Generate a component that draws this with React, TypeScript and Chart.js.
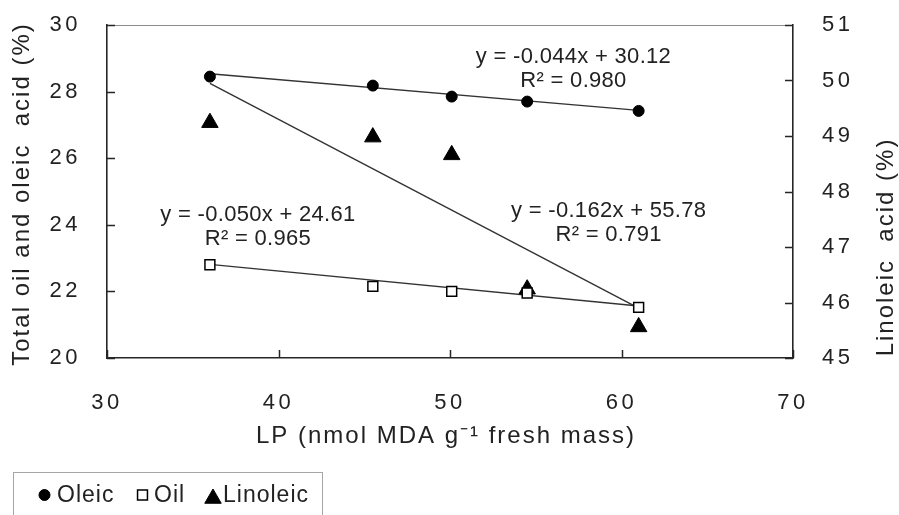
import React, { useEffect, useRef } from 'react';
import { Chart, registerables } from 'chart.js';
import { drawPoint } from 'chart.js/helpers';

Chart.register(...registerables);

// ---- data ----
const lpValues = [36.0, 45.5, 50.1, 54.5, 61.0];
const oleicValues = [28.45, 28.18, 27.85, 27.7, 27.42];
const oilValues = [22.8, 22.15, 22.0, 21.95, 21.52];
const linoleicValues = [49.24, 48.98, 48.66, 46.24, 45.56];

const seriesNames = ['Oleic', 'Oil', 'Linoleic'];
const fitSlopes = [-0.044, -0.05, -0.162];
const fitIntercepts = [30.12, 24.61, 55.78];
const fitR2 = ['0.980', '0.965', '0.791'];
const fitRange = [36, 61];

// equation label anchors (x in LP units, y in left-axis units)
const eqAnchorX = [57.2, 38.8, 59.25];
const eqAnchorY = [29.03, 24.3, 24.42];

const xTickValues = [30, 40, 50, 60, 70];
const leftTickValues = [20, 22, 24, 26, 28, 30];
const rightTickValues = [45, 46, 47, 48, 49, 50, 51];

const xTitle = 'LP (nmol MDA g\u207B\u00B9 fresh mass)';
const leftTitle = 'Total oil and oleic  acid (%)';
const rightTitle = 'Linoleic  acid (%)';

// ---- style ----
const FONT = "'Liberation Sans', Arial, sans-serif";
const TEXT = '#222222';
const AXIS = '#262626';
const LINE = '#333333';
const TICK_SPACING = 3.5;

function setSpacing(ctx: any, px: number) {
  try {
    ctx.letterSpacing = px + 'px';
  } catch (e) {}
}

const markerStyles = [
  { pointStyle: 'circle', radius: 5.5, bg: '#000000', border: '#000000', bw: 1 },
  { pointStyle: 'rect', radius: 7, bg: '#ffffff', border: '#000000', bw: 1.5 },
  { pointStyle: 'triangle', radius: 9.5, bg: '#000000', border: '#000000', bw: 1 },
];

const customPlugin = {
  id: 'customDecor',
  beforeUpdate(chart: any) {
    setSpacing(chart.ctx, TICK_SPACING);
  },
  beforeDraw(chart: any) {
    setSpacing(chart.ctx, TICK_SPACING);
  },
  afterDraw(chart: any) {
    const ctx = chart.ctx;
    const { left, right, top, bottom } = chart.chartArea;
    const xs = chart.scales.x;
    const ys = chart.scales.y;
    const ys1 = chart.scales.y1;

    ctx.save();
    // top border
    ctx.strokeStyle = '#8c8c8c';
    ctx.lineWidth = 1;
    ctx.beginPath();
    ctx.moveTo(left, Math.round(top) + 0.5);
    ctx.lineTo(right, Math.round(top) + 0.5);
    ctx.stroke();

    // inward tick marks
    ctx.strokeStyle = AXIS;
    ctx.lineWidth = 1.5;
    ctx.beginPath();
    xs.ticks.forEach((t: any) => {
      const px = Math.round(xs.getPixelForValue(t.value)) + 0.5;
      ctx.moveTo(px, bottom);
      ctx.lineTo(px, bottom - 8);
    });
    ys.ticks.forEach((t: any) => {
      const py = Math.round(ys.getPixelForValue(t.value)) + 0.5;
      ctx.moveTo(left, py);
      ctx.lineTo(left + 8, py);
    });
    ys1.ticks.forEach((t: any) => {
      const py = Math.round(ys1.getPixelForValue(t.value)) + 0.5;
      ctx.moveTo(right, py);
      ctx.lineTo(right - 8, py);
    });
    ctx.stroke();

    // axis titles
    ctx.fillStyle = TEXT;
    ctx.font = `24px ${FONT}`;
    ctx.textAlign = 'center';
    ctx.textBaseline = 'middle';
    setSpacing(ctx, 2);
    ctx.fillText(xTitle, 446, 436);

    ctx.save();
    ctx.translate(22, 194);
    ctx.rotate(-Math.PI / 2);
    ctx.fillText(leftTitle, 0, 0);
    ctx.restore();

    ctx.save();
    ctx.translate(886, 247);
    ctx.rotate(-Math.PI / 2);
    ctx.fillText(rightTitle, 0, 0);
    ctx.restore();

    // regression equations
    setSpacing(ctx, 0.3);
    ctx.font = `22px ${FONT}`;
    for (let i = 0; i < 3; i++) {
      const px = xs.getPixelForValue(eqAnchorX[i]);
      const py = ys.getPixelForValue(eqAnchorY[i]);
      const eq = `y = ${fitSlopes[i].toFixed(3)}x + ${fitIntercepts[i].toFixed(2)}`;
      ctx.fillText(eq, px, py);
      ctx.fillText(`R\u00B2 = ${fitR2[i]}`, px, py + 24);
    }

    // legend box
    ctx.strokeStyle = '#a6a6a6';
    ctx.lineWidth = 1;
    ctx.strokeRect(13.5, 472.5, 309, 60);
    const itemMarkerX = [44.5, 142.5, 213];
    const itemMarkerY = [495, 495, 498.5];
    const itemTextX = [57, 154, 223];
    ctx.font = `23px ${FONT}`;
    ctx.textAlign = 'left';
    ctx.textBaseline = 'middle';
    setSpacing(ctx, 1);
    for (let i = 0; i < 3; i++) {
      const m = markerStyles[i];
      ctx.fillStyle = m.bg;
      ctx.strokeStyle = m.border;
      ctx.lineWidth = m.bw;
      drawPoint(
        ctx,
        { pointStyle: m.pointStyle as any, radius: m.radius, borderWidth: m.bw, rotation: 0 } as any,
        itemMarkerX[i],
        itemMarkerY[i]
      );
      ctx.fillStyle = TEXT;
      ctx.fillText(seriesNames[i], itemTextX[i], 496);
    }
    ctx.restore();
  },
};

export default function App() {
  const ref = useRef<HTMLCanvasElement>(null);

  useEffect(() => {
    const canvas = ref.current;
    if (!canvas) return;

    const seriesValues = [oleicValues, oilValues, linoleicValues];
    const axisIds = ['y', 'y', 'y1'];

    const markerDatasets = seriesValues.map((vals, i) => ({
      type: 'scatter' as const,
      label: seriesNames[i],
      data: lpValues.map((x, j) => ({ x, y: vals[j] })),
      yAxisID: axisIds[i],
      showLine: false,
      pointStyle: markerStyles[i].pointStyle,
      pointRadius: markerStyles[i].radius,
      pointBackgroundColor: markerStyles[i].bg,
      pointBorderColor: markerStyles[i].border,
      pointBorderWidth: markerStyles[i].bw,
      order: 1,
    }));

    const fitDatasets = fitSlopes.map((s, i) => ({
      type: 'scatter' as const,
      label: seriesNames[i] + ' fit',
      data: fitRange.map((x) => ({ x, y: s * x + fitIntercepts[i] })),
      yAxisID: axisIds[i],
      showLine: true,
      borderColor: LINE,
      borderWidth: 1.4,
      pointRadius: 0,
      fill: false,
      order: 2,
    }));

    const tickFont = { family: FONT, size: 22 };

    const fitVertical = (w: number) => (s: any) => {
      s.width = w;
      s.paddingTop = 13;
      s.paddingBottom = 13;
    };

    const chart = new Chart(canvas, {
      type: 'scatter',
      data: { datasets: [...fitDatasets, ...markerDatasets] as any },
      options: {
        animation: false,
        responsive: true,
        maintainAspectRatio: false,
        layout: { padding: { top: 25, left: 0, right: 0, bottom: 0 } },
        plugins: {
          legend: { display: false },
          title: { display: false },
          tooltip: { enabled: false },
        },
        scales: {
          x: {
            type: 'linear',
            position: 'bottom',
            min: xTickValues[0],
            max: xTickValues[xTickValues.length - 1],
            afterBuildTicks: (s: any) => {
              s.ticks = xTickValues.map((v) => ({ value: v }));
            },
            ticks: { font: tickFont, color: TEXT, padding: 32, autoSkip: false, maxRotation: 0 },
            grid: { drawOnChartArea: false, drawTicks: false },
            border: { display: true, color: AXIS, width: 1.6 },
            afterFit: (s: any) => {
              s.height = 157;
              s.paddingLeft = 15;
              s.paddingRight = 15;
            },
          },
          y: {
            type: 'linear',
            position: 'left',
            min: leftTickValues[0],
            max: leftTickValues[leftTickValues.length - 1],
            afterBuildTicks: (s: any) => {
              s.ticks = leftTickValues.map((v) => ({ value: v }));
            },
            ticks: { font: tickFont, color: TEXT, padding: 26 },
            grid: { drawOnChartArea: false, drawTicks: false },
            border: { display: true, color: AXIS, width: 1.6 },
            afterFit: fitVertical(107),
          },
          y1: {
            type: 'linear',
            position: 'right',
            min: rightTickValues[0],
            max: rightTickValues[rightTickValues.length - 1],
            afterBuildTicks: (s: any) => {
              s.ticks = rightTickValues.map((v) => ({ value: v }));
            },
            ticks: { font: tickFont, color: TEXT, padding: 29 },
            grid: { drawOnChartArea: false, drawTicks: false },
            border: { display: true, color: AXIS, width: 1.6 },
            afterFit: fitVertical(106),
          },
        },
      } as any,
      plugins: [customPlugin as any],
    });

    return () => chart.destroy();
  }, []);

  return (
    <div
      style={{
        position: 'fixed',
        left: 0,
        top: 0,
        width: 899,
        height: 515,
        background: '#ffffff',
      }}
    >
      <canvas ref={ref} />
    </div>
  );
}
